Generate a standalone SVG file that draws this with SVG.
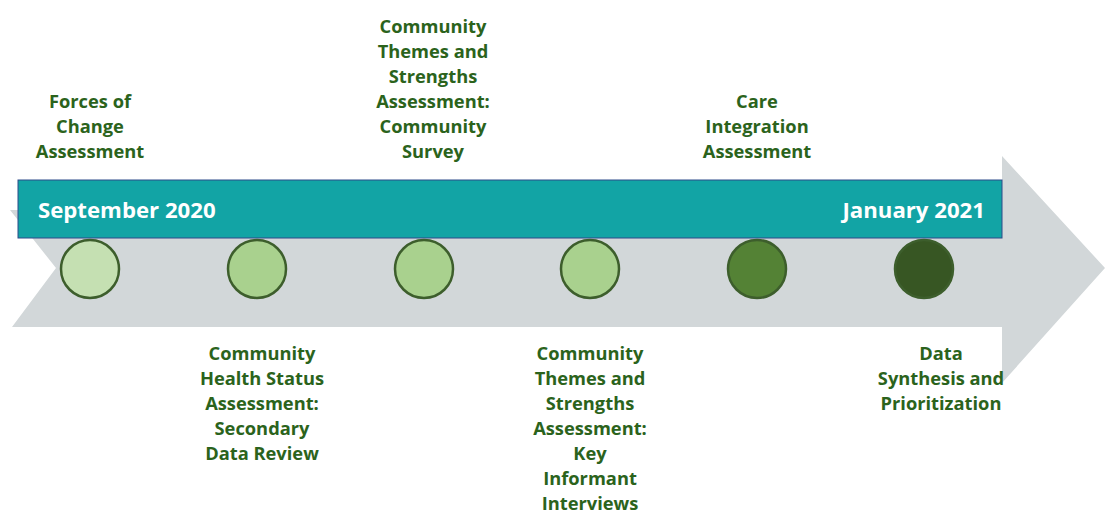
<svg xmlns="http://www.w3.org/2000/svg" width="1106" height="514" viewBox="0 0 1106 514">
<style>
.lbl{font-family:"Open Sans","Noto Sans",sans-serif;font-weight:bold;font-size:18.3px;fill:#2b631c;text-anchor:middle}
.date{font-family:"Open Sans","Noto Sans",sans-serif;font-weight:bold;font-size:22.2px;fill:#ffffff}
.dot{stroke:#3d5e2c;stroke-width:2.5}
</style>
<rect width="1106" height="514" fill="#ffffff"/>
<g id="arrow">
<polygon points="10,210 1002,210 1002,156 1105,268 1002,383 1002,327 12,327 56,268" fill="#d2d7d9"/>
</g>
<g id="bar">
<rect x="18" y="180" width="984" height="58" fill="#12a4a5" stroke="#2c4a8a" stroke-width="1"/>
<text class="date" x="38" y="218">September 2020</text>
<text class="date" x="985" y="218" text-anchor="end">January 2021</text>
</g>
<g id="n1"><circle class="dot" cx="90" cy="269" r="29" fill="#c5e0b2"/>
<text class="lbl" x="90" y="108">Forces of</text><text class="lbl" x="90" y="133">Change</text><text class="lbl" x="90" y="158">Assessment</text></g>
<g id="n2"><circle class="dot" cx="257" cy="269" r="29" fill="#a9d18e"/>
<text class="lbl" x="262" y="360">Community</text><text class="lbl" x="262" y="385">Health Status</text><text class="lbl" x="262" y="410">Assessment:</text><text class="lbl" x="262" y="435">Secondary</text><text class="lbl" x="262" y="460">Data Review</text></g>
<g id="n3"><circle class="dot" cx="424" cy="269" r="29" fill="#a9d18e"/>
<text class="lbl" x="433" y="33">Community</text><text class="lbl" x="433" y="58">Themes and</text><text class="lbl" x="433" y="83">Strengths</text><text class="lbl" x="433" y="108">Assessment:</text><text class="lbl" x="433" y="133">Community</text><text class="lbl" x="433" y="158">Survey</text></g>
<g id="n4"><circle class="dot" cx="590" cy="269" r="29" fill="#a9d18e"/>
<text class="lbl" x="590" y="360">Community</text><text class="lbl" x="590" y="385">Themes and</text><text class="lbl" x="590" y="410">Strengths</text><text class="lbl" x="590" y="435">Assessment:</text><text class="lbl" x="590" y="460">Key</text><text class="lbl" x="590" y="485">Informant</text><text class="lbl" x="590" y="510">Interviews</text></g>
<g id="n5"><circle class="dot" cx="757" cy="269" r="29" fill="#548235"/>
<text class="lbl" x="757" y="108">Care</text><text class="lbl" x="757" y="133">Integration</text><text class="lbl" x="757" y="158">Assessment</text></g>
<g id="n6"><circle class="dot" cx="924" cy="269" r="29" fill="#375623"/>
<text class="lbl" x="941" y="360">Data</text><text class="lbl" x="941" y="385">Synthesis and</text><text class="lbl" x="941" y="410">Prioritization</text></g>
<g id="connectors"></g>
</svg>
